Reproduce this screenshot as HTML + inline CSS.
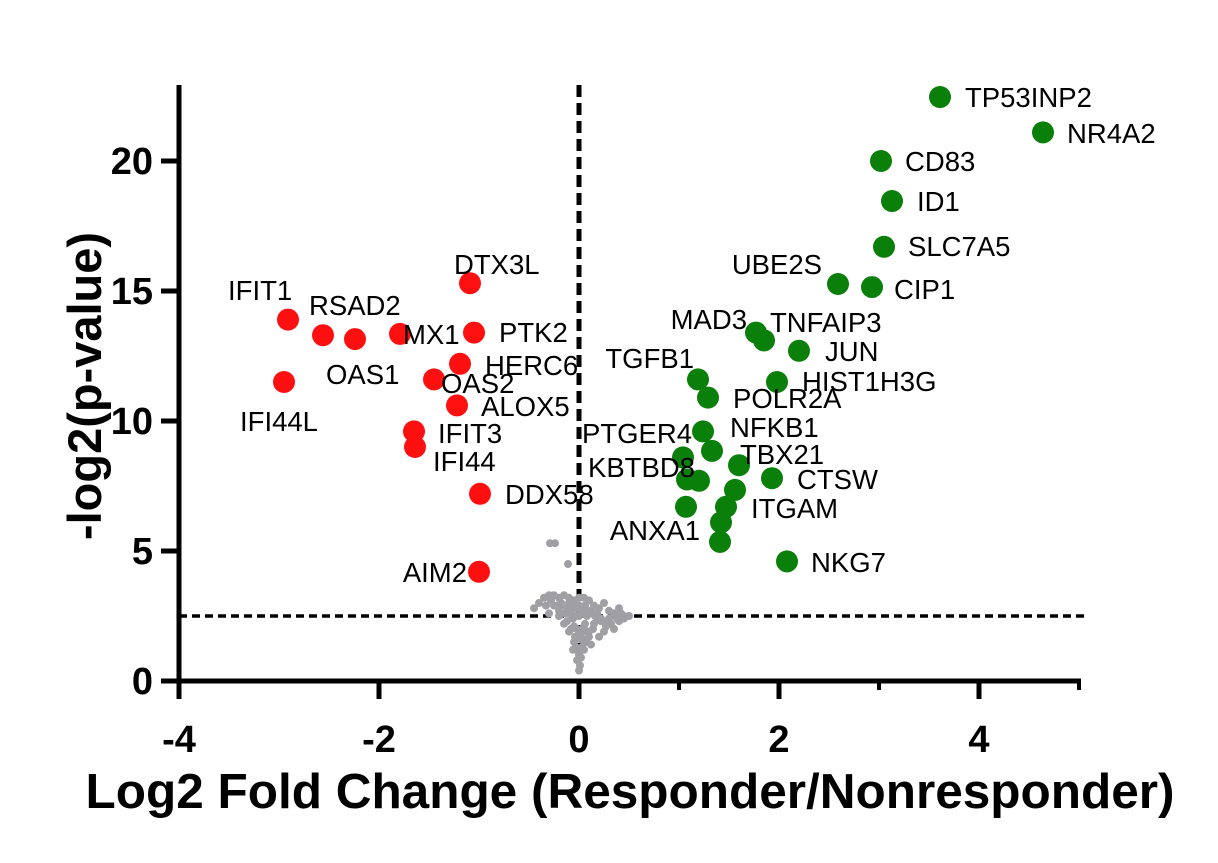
<!DOCTYPE html>
<html><head><meta charset="utf-8"><style>
body{margin:0;background:#fff}
svg{display:block}
text{font-family:"Liberation Sans",sans-serif}
</style></head><body>
<svg id="chart" width="1218" height="863" viewBox="0 0 1218 863"></svg>
<script>
const upX=[3.61,4.64,3.02,3.13,3.05,2.59,2.93,1.77,1.85,2.2,1.19,1.98,1.29,1.24,1.33,1.04,1.6,1.2,1.08,1.93,1.56,1.47,1.42,1.07,1.41,2.08];
const upY=[22.46,21.1,20,18.46,16.7,15.27,15.15,13.4,13.1,12.7,11.6,11.5,10.9,9.6,8.85,8.6,8.3,7.7,7.75,7.8,7.35,6.7,6.1,6.7,5.35,4.6];
const downX=[-2.91,-2.56,-2.24,-1.79,-2.95,-1.45,-1.19,-1.05,-1.09,-1.22,-1.65,-1.64,-0.99,-1.0];
const downY=[13.9,13.3,13.15,13.35,11.5,11.6,12.2,13.4,15.3,10.6,9.6,9.0,7.2,4.2];
const greyX=[-0.29,-0.24,-0.11,-0.45,-0.4,-0.35,-0.3,-0.25,-0.2,-0.15,-0.1,-0.05,0,0.05,0.1,0.15,0.2,0.25,0.3,0.35,0.4,0.45,0.5,-0.3,-0.2,-0.1,0,0.1,0.2,0.3,0.4,-0.15,-0.05,0.05,0.15,0.25,-0.1,0,0.1,0.2,-0.05,0.05,0.12,-0.03,0.03,0,0.02,-0.02,0.01,0,-0.22,0.28,0.35,0.42,-0.25,-0.18,-0.12,-0.06,0.06,0.12,0.18,-0.2,-0.14,-0.08,-0.02,0.04,0.08,0.16,0.22,-0.12,-0.06,0.06,0.14,-0.08,-0.02,0.04,0.1,-0.04,0.02,0.07,-0.06,0.0,0.05,-0.03,0.03,0.32,0.38,0.45,0.27,0.22,-0.28,-0.33,-0.18,-0.1,0.0,0.08];
const greyY=[5.3,5.3,4.5,2.8,3.0,3.2,3.3,3.3,3.2,3.3,3.2,3.1,3.2,3.2,3.1,2.9,2.8,3.0,2.7,2.6,2.8,2.5,2.5,2.6,2.7,2.6,2.5,2.6,2.4,2.4,2.3,2.2,2.1,2.1,2.2,1.9,1.9,1.8,1.9,1.7,1.5,1.6,1.4,1.3,1.3,1.1,0.9,0.8,0.6,0.4,2.9,2.3,2.0,2.6,2.9,2.9,2.8,2.9,2.9,2.7,2.6,2.5,2.6,2.7,2.8,2.7,2.5,2.5,2.3,2.3,2.4,2.2,2.0,2.0,2.0,1.9,1.7,1.7,1.6,1.5,1.2,1.0,1.2,2.5,2.6,2.2,2.4,2.4,2.1,2.4,3.1,2.9,3.0,3.0,2.9,2.7];
const labels=["TP53INP2","NR4A2","CD83","ID1","SLC7A5","UBE2S","CIP1","MAD3","TNFAIP3","JUN","TGFB1","HIST1H3G","POLR2A","NFKB1","PTGER4","TBX21","KBTBD8","CTSW","ITGAM","ANXA1","NKG7","DTX3L","IFIT1","RSAD2","MX1","PTK2","HERC6","OAS1","OAS2","ALOX5","IFI44L","IFIT3","IFI44","DDX58","AIM2"];
const labelPos=[[965,97,"start"],[1067,133,"start"],[905,161,"start"],[917,201,"start"],[908,246,"start"],[822,264,"end"],[894,289,"start"],[747,319,"end"],[770,322,"start"],[825,351,"start"],[694,358,"end"],[802,381,"start"],[733,398,"start"],[730,427,"start"],[582,433,"start"],[740,454,"start"],[588,467,"start"],[797,479,"start"],[751,508,"start"],[700,530,"end"],[811,562,"start"],[454,264,"start"],[228,290,"start"],[309,305,"start"],[403,334,"start"],[499,332,"start"],[485,365,"start"],[326,374,"start"],[441,383,"start"],[481,406,"start"],[240,421,"start"],[438,433,"start"],[433,461,"start"],[505,494,"start"],[467,572,"end"]];
const xTicks=[-4,-2,0,2,4];
const yTicks=[0,5,10,15,20];
const sx=v=>579+v*100, sy=v=>681-v*26;
const svg=document.getElementById('chart');
const NS='http://www.w3.org/2000/svg';
function mk(t,a,p){const e=document.createElementNS(NS,t);for(const k in a)e.setAttribute(k,a[k]);(p||svg).appendChild(e);return e;}
let e;
e=mk('line',{x1:sx(0),y1:85,x2:sx(0),y2:681,stroke:'#000','stroke-width':5,'stroke-dasharray':'12 6'});


e=mk('line',{x1:179,y1:sy(2.5),x2:1085,y2:sy(2.5),stroke:'#000','stroke-width':3.5,'stroke-dasharray':'8 5'});


greyX.forEach((x,i)=>{e=mk('circle',{cx:sx(x),cy:sy(greyY[i]),r:4,fill:'#a0a0a4'});

});
downX.forEach((x,i)=>{e=mk('circle',{cx:sx(x),cy:sy(downY[i]),r:11,fill:'#ff1010'});

});
upX.forEach((x,i)=>{e=mk('circle',{cx:sx(x),cy:sy(upY[i]),r:11,fill:'#0a800a'});

});
labels.forEach((l,i)=>{const p=labelPos[i];e=mk('text',{x:p[0],y:p[1]+10,'text-anchor':p[2],'font-size':27.5,fill:'#000'});e.textContent=l;

});
e=mk('line',{x1:179,y1:85,x2:179,y2:684,stroke:'#000','stroke-width':5});


e=mk('line',{x1:177,y1:681,x2:1081,y2:681,stroke:'#000','stroke-width':5});


xTicks.forEach(t=>{mk('line',{x1:sx(t),y1:681,x2:sx(t),y2:699,stroke:'#000','stroke-width':5});
e=mk('text',{x:sx(t),y:752,'text-anchor':'middle','font-size':38,'font-weight':'bold'});e.textContent=t<0?'-'+(-t):String(t);

});
[1,3,5].forEach(t=>mk('line',{x1:sx(t),y1:681,x2:sx(t),y2:690,stroke:'#000','stroke-width':4}));
yTicks.forEach(t=>{mk('line',{x1:161,y1:sy(t),x2:179,y2:sy(t),stroke:'#000','stroke-width':5});
e=mk('text',{x:153,y:sy(t)+13,'text-anchor':'end','font-size':38,'font-weight':'bold'});e.textContent=t;

});
e=mk('text',{x:630,y:808,'text-anchor':'middle','font-size':49.5,'font-weight':'bold'});e.textContent='Log2 Fold Change (Responder/Nonresponder)';


e=mk('text',{x:0,y:0,'text-anchor':'middle','font-size':47,'font-weight':'bold',transform:'translate(101,386) rotate(-90)'});e.textContent='-log2(p-value)';


</script>
</body></html>
